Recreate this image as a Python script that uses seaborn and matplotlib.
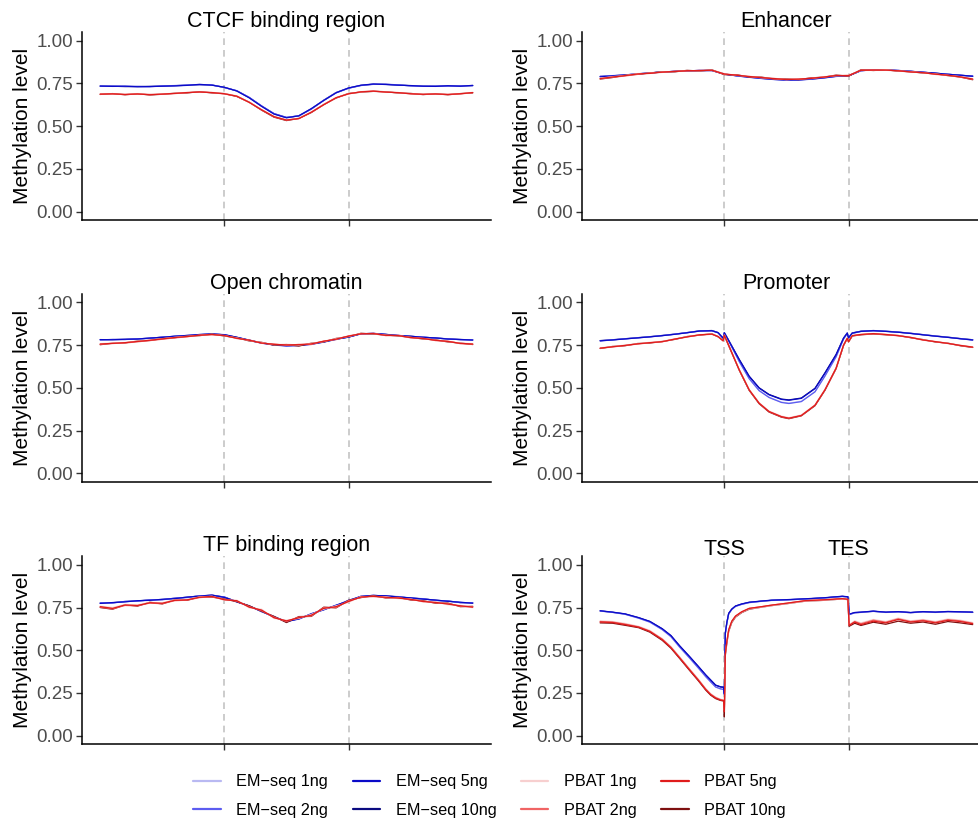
import pandas as pd
import matplotlib
matplotlib.use('Agg')
import matplotlib.pyplot as plt
import matplotlib.transforms as mtransforms
import seaborn as sns
from matplotlib.lines import Line2D

sns.set_theme(style='ticks')
plt.rcParams['font.family'] = ['Liberation Sans', 'DejaVu Sans']
plt.rcParams['text.color'] = 'black'
plt.rcParams['axes.labelcolor'] = 'black'

# Sample names and colours (legend order)
samples = ['EM\u2212seq 1ng', 'EM\u2212seq 2ng', 'EM\u2212seq 5ng', 'EM\u2212seq 10ng',
           'PBAT 1ng', 'PBAT 2ng', 'PBAT 5ng', 'PBAT 10ng']
colors = ['#b9b9f2', '#5c5cf0', '#0a0ac8', '#0a0a80',
          '#f7cfcf', '#f06464', '#e01c1c', '#7e1010']
# drawing order (alphabetical, as ggplot does it)
draw_order = ['EM\u2212seq 10ng', 'EM\u2212seq 1ng', 'EM\u2212seq 2ng', 'EM\u2212seq 5ng',
              'PBAT 10ng', 'PBAT 1ng', 'PBAT 2ng', 'PBAT 5ng']

# ---- CTCF binding region ----
ctcf_x = list(range(0, 301, 10))
ctcf_em1 = [0.736, 0.734, 0.735, 0.732, 0.733, 0.735, 0.737, 0.740, 0.744, 0.741, 0.727, 0.707, 0.667, 0.617, 0.572, 0.550,
            0.562, 0.602, 0.652, 0.697, 0.723, 0.739, 0.746, 0.745, 0.741, 0.737, 0.735, 0.734, 0.736, 0.735, 0.738]
ctcf_em2 = [0.734, 0.735, 0.733, 0.733, 0.731, 0.736, 0.738, 0.741, 0.743, 0.742, 0.726, 0.708, 0.669, 0.619, 0.574, 0.552,
            0.560, 0.600, 0.650, 0.695, 0.722, 0.738, 0.745, 0.746, 0.742, 0.736, 0.734, 0.735, 0.735, 0.736, 0.737]
ctcf_em5 = [0.735, 0.733, 0.734, 0.731, 0.732, 0.734, 0.736, 0.739, 0.745, 0.740, 0.728, 0.706, 0.666, 0.616, 0.571, 0.549,
            0.561, 0.603, 0.651, 0.696, 0.724, 0.740, 0.747, 0.744, 0.740, 0.738, 0.734, 0.733, 0.737, 0.734, 0.739]
ctcf_em10 = [0.735, 0.734, 0.732, 0.732, 0.733, 0.735, 0.737, 0.740, 0.743, 0.741, 0.727, 0.707, 0.668, 0.618, 0.573, 0.551,
             0.561, 0.601, 0.652, 0.697, 0.723, 0.739, 0.746, 0.745, 0.741, 0.737, 0.735, 0.734, 0.736, 0.735, 0.738]
ctcf_pb1 = [0.690, 0.688, 0.687, 0.691, 0.685, 0.689, 0.693, 0.698, 0.699, 0.698, 0.692, 0.678, 0.642, 0.598, 0.558, 0.538,
            0.547, 0.584, 0.628, 0.668, 0.691, 0.700, 0.704, 0.701, 0.695, 0.691, 0.688, 0.690, 0.687, 0.691, 0.698]
ctcf_pb2 = [0.687, 0.690, 0.685, 0.688, 0.686, 0.687, 0.691, 0.696, 0.701, 0.696, 0.689, 0.675, 0.639, 0.595, 0.555, 0.535,
            0.544, 0.581, 0.625, 0.666, 0.689, 0.702, 0.706, 0.699, 0.697, 0.689, 0.686, 0.688, 0.685, 0.689, 0.696]
ctcf_pb5 = [0.688, 0.689, 0.686, 0.689, 0.684, 0.688, 0.692, 0.697, 0.700, 0.697, 0.690, 0.676, 0.640, 0.596, 0.556, 0.536,
            0.545, 0.582, 0.626, 0.667, 0.690, 0.701, 0.705, 0.700, 0.696, 0.690, 0.687, 0.689, 0.686, 0.690, 0.697]
ctcf_pb10 = [0.686, 0.691, 0.684, 0.690, 0.683, 0.687, 0.693, 0.695, 0.702, 0.695, 0.691, 0.674, 0.641, 0.594, 0.553, 0.533,
             0.546, 0.580, 0.627, 0.665, 0.692, 0.699, 0.704, 0.702, 0.694, 0.692, 0.685, 0.690, 0.684, 0.691, 0.695]

# ---- Enhancer ----
enh_x = list(range(0, 301, 10))
enh_em1 = [0.790, 0.795, 0.800, 0.806, 0.812, 0.817, 0.821, 0.824, 0.826, 0.826, 0.805, 0.795, 0.787, 0.780, 0.774, 0.770,
           0.771, 0.776, 0.783, 0.792, 0.795, 0.825, 0.830, 0.829, 0.826, 0.821, 0.816, 0.810, 0.804, 0.798, 0.793]
enh_em2 = [0.792, 0.796, 0.801, 0.805, 0.813, 0.816, 0.822, 0.823, 0.827, 0.825, 0.806, 0.794, 0.786, 0.779, 0.773, 0.769,
           0.770, 0.775, 0.782, 0.791, 0.796, 0.824, 0.831, 0.828, 0.827, 0.820, 0.817, 0.809, 0.805, 0.797, 0.794]
enh_em5 = [0.789, 0.794, 0.799, 0.807, 0.811, 0.818, 0.820, 0.825, 0.825, 0.827, 0.804, 0.796, 0.788, 0.781, 0.775, 0.771,
           0.772, 0.777, 0.784, 0.793, 0.794, 0.826, 0.829, 0.830, 0.825, 0.822, 0.815, 0.811, 0.803, 0.799, 0.792]
enh_em10 = [0.791, 0.795, 0.800, 0.806, 0.812, 0.817, 0.821, 0.824, 0.826, 0.826, 0.805, 0.795, 0.787, 0.780, 0.774, 0.770,
            0.771, 0.776, 0.783, 0.792, 0.795, 0.825, 0.830, 0.829, 0.826, 0.821, 0.816, 0.810, 0.804, 0.798, 0.793]
enh_pb1 = [0.781, 0.790, 0.797, 0.808, 0.810, 0.818, 0.819, 0.826, 0.824, 0.829, 0.808, 0.797, 0.793, 0.783, 0.781, 0.772,
           0.778, 0.779, 0.790, 0.795, 0.798, 0.826, 0.827, 0.831, 0.823, 0.820, 0.812, 0.806, 0.797, 0.790, 0.778]
enh_pb2 = [0.777, 0.786, 0.794, 0.803, 0.812, 0.815, 0.822, 0.823, 0.827, 0.826, 0.803, 0.800, 0.789, 0.786, 0.776, 0.775,
           0.774, 0.782, 0.786, 0.798, 0.794, 0.829, 0.830, 0.827, 0.825, 0.817, 0.814, 0.803, 0.799, 0.787, 0.774]
enh_pb5 = [0.779, 0.788, 0.796, 0.806, 0.809, 0.817, 0.820, 0.825, 0.825, 0.828, 0.806, 0.798, 0.791, 0.784, 0.779, 0.773,
           0.776, 0.780, 0.788, 0.796, 0.797, 0.827, 0.828, 0.829, 0.824, 0.818, 0.813, 0.805, 0.798, 0.789, 0.776]
enh_pb10 = [0.776, 0.785, 0.798, 0.804, 0.811, 0.819, 0.818, 0.827, 0.823, 0.830, 0.802, 0.801, 0.788, 0.787, 0.777, 0.776,
            0.773, 0.783, 0.787, 0.799, 0.793, 0.830, 0.826, 0.830, 0.822, 0.819, 0.811, 0.807, 0.796, 0.788, 0.772]

# ---- Open chromatin ----
open_x = list(range(0, 301, 10))
open_em1 = [0.781, 0.782, 0.783, 0.786, 0.790, 0.796, 0.801, 0.806, 0.811, 0.815, 0.810, 0.795, 0.778, 0.762, 0.751, 0.746,
            0.748, 0.755, 0.768, 0.784, 0.797, 0.816, 0.818, 0.812, 0.806, 0.801, 0.796, 0.791, 0.786, 0.782, 0.780]
open_em2 = [0.780, 0.783, 0.782, 0.787, 0.789, 0.797, 0.800, 0.807, 0.810, 0.816, 0.809, 0.794, 0.777, 0.761, 0.750, 0.744,
            0.747, 0.754, 0.767, 0.783, 0.798, 0.815, 0.819, 0.811, 0.807, 0.800, 0.797, 0.790, 0.787, 0.781, 0.781]
open_em5 = [0.782, 0.781, 0.784, 0.785, 0.791, 0.795, 0.802, 0.805, 0.812, 0.814, 0.811, 0.796, 0.779, 0.763, 0.752, 0.747,
            0.749, 0.756, 0.769, 0.785, 0.796, 0.817, 0.817, 0.813, 0.805, 0.802, 0.795, 0.792, 0.785, 0.783, 0.779]
open_em10 = [0.781, 0.782, 0.783, 0.786, 0.790, 0.796, 0.801, 0.806, 0.811, 0.815, 0.810, 0.795, 0.778, 0.762, 0.751, 0.746,
             0.748, 0.755, 0.768, 0.784, 0.797, 0.816, 0.818, 0.812, 0.806, 0.801, 0.796, 0.791, 0.786, 0.782, 0.780]
open_pb1 = [0.758, 0.762, 0.765, 0.772, 0.779, 0.787, 0.795, 0.801, 0.806, 0.813, 0.804, 0.792, 0.776, 0.765, 0.752, 0.755,
            0.750, 0.760, 0.770, 0.788, 0.800, 0.818, 0.816, 0.808, 0.804, 0.795, 0.787, 0.779, 0.770, 0.762, 0.758]
open_pb2 = [0.754, 0.759, 0.762, 0.769, 0.776, 0.784, 0.792, 0.798, 0.809, 0.810, 0.807, 0.788, 0.780, 0.760, 0.756, 0.748,
            0.754, 0.753, 0.774, 0.782, 0.804, 0.815, 0.819, 0.805, 0.807, 0.792, 0.790, 0.776, 0.773, 0.758, 0.755]
open_pb5 = [0.756, 0.760, 0.764, 0.771, 0.778, 0.786, 0.794, 0.800, 0.807, 0.812, 0.805, 0.790, 0.778, 0.762, 0.754, 0.751,
            0.752, 0.757, 0.772, 0.785, 0.802, 0.816, 0.817, 0.807, 0.805, 0.794, 0.788, 0.778, 0.771, 0.760, 0.756]
open_pb10 = [0.752, 0.761, 0.763, 0.773, 0.777, 0.788, 0.793, 0.802, 0.805, 0.814, 0.803, 0.793, 0.774, 0.766, 0.749, 0.753,
             0.744, 0.761, 0.768, 0.789, 0.799, 0.819, 0.814, 0.809, 0.803, 0.796, 0.785, 0.781, 0.768, 0.762, 0.753]

# ---- Promoter ----
prom_x = [0, 10, 20, 30, 40, 50, 60, 70, 80, 90, 95, 99, 100, 104, 112, 120, 128, 136, 146, 152, 162, 173, 181,
          190, 196, 199, 200, 203, 210, 220, 230, 240, 250, 260, 270, 280, 290, 300]
prom_em1 = [0.776, 0.781, 0.787, 0.793, 0.799, 0.806, 0.814, 0.823, 0.831, 0.834, 0.821, 0.791, 0.821, 0.768, 0.655, 0.555,
            0.485, 0.445, 0.416, 0.410, 0.421, 0.478, 0.570, 0.683, 0.786, 0.819, 0.793, 0.819, 0.829, 0.833, 0.831,
            0.826, 0.819, 0.811, 0.803, 0.796, 0.788, 0.781]
prom_em2 = [0.774, 0.780, 0.786, 0.792, 0.798, 0.805, 0.813, 0.822, 0.832, 0.833, 0.822, 0.790, 0.820, 0.767, 0.653, 0.553,
            0.483, 0.443, 0.414, 0.408, 0.419, 0.476, 0.568, 0.681, 0.785, 0.818, 0.791, 0.818, 0.830, 0.834, 0.830,
            0.825, 0.818, 0.810, 0.802, 0.795, 0.787, 0.779]
prom_em5 = [0.775, 0.780, 0.786, 0.792, 0.798, 0.805, 0.813, 0.822, 0.832, 0.834, 0.822, 0.790, 0.822, 0.770, 0.664, 0.566,
            0.498, 0.459, 0.432, 0.427, 0.438, 0.495, 0.585, 0.693, 0.790, 0.820, 0.792, 0.820, 0.830, 0.834, 0.830,
            0.825, 0.818, 0.810, 0.802, 0.795, 0.787, 0.780]
prom_em10 = [0.776, 0.781, 0.787, 0.793, 0.799, 0.806, 0.814, 0.823, 0.833, 0.835, 0.823, 0.791, 0.823, 0.771, 0.666, 0.568,
             0.500, 0.461, 0.434, 0.429, 0.440, 0.497, 0.587, 0.695, 0.791, 0.821, 0.793, 0.821, 0.831, 0.835, 0.831,
             0.826, 0.819, 0.811, 0.803, 0.796, 0.788, 0.781]
prom_pb1 = [0.734, 0.741, 0.750, 0.758, 0.766, 0.772, 0.786, 0.799, 0.811, 0.815, 0.801, 0.776, 0.809, 0.742, 0.608, 0.491,
            0.413, 0.364, 0.334, 0.325, 0.341, 0.401, 0.491, 0.618, 0.752, 0.791, 0.771, 0.806, 0.813, 0.818, 0.813,
            0.806, 0.796, 0.781, 0.771, 0.761, 0.749, 0.739]
prom_pb2 = [0.731, 0.739, 0.747, 0.756, 0.763, 0.769, 0.784, 0.797, 0.809, 0.813, 0.799, 0.774, 0.807, 0.739, 0.604, 0.487,
            0.409, 0.360, 0.330, 0.321, 0.337, 0.397, 0.487, 0.614, 0.749, 0.789, 0.769, 0.804, 0.811, 0.816, 0.811,
            0.804, 0.794, 0.779, 0.769, 0.759, 0.747, 0.737]
prom_pb5 = [0.732, 0.740, 0.748, 0.757, 0.764, 0.770, 0.785, 0.798, 0.810, 0.814, 0.800, 0.775, 0.808, 0.740, 0.605, 0.488,
            0.410, 0.361, 0.331, 0.322, 0.338, 0.398, 0.488, 0.615, 0.750, 0.790, 0.770, 0.805, 0.812, 0.817, 0.812,
            0.805, 0.795, 0.780, 0.770, 0.760, 0.748, 0.738]
prom_pb10 = [0.730, 0.742, 0.746, 0.759, 0.762, 0.771, 0.783, 0.800, 0.808, 0.816, 0.798, 0.777, 0.806, 0.738, 0.603, 0.485,
             0.407, 0.358, 0.328, 0.319, 0.336, 0.395, 0.485, 0.612, 0.747, 0.788, 0.768, 0.803, 0.810, 0.815, 0.810,
             0.806, 0.793, 0.782, 0.768, 0.761, 0.746, 0.736]

# ---- TF binding region ----
tf_x = list(range(0, 301, 10))
tf_em1 = [0.775, 0.778, 0.784, 0.789, 0.793, 0.797, 0.803, 0.810, 0.817, 0.822, 0.810, 0.784, 0.758, 0.728, 0.695, 0.668,
          0.684, 0.712, 0.738, 0.762, 0.790, 0.815, 0.820, 0.818, 0.812, 0.806, 0.800, 0.793, 0.787, 0.780, 0.776]
tf_em2 = [0.777, 0.776, 0.786, 0.787, 0.795, 0.795, 0.805, 0.808, 0.819, 0.820, 0.812, 0.782, 0.760, 0.725, 0.698, 0.665,
          0.687, 0.709, 0.741, 0.759, 0.793, 0.813, 0.822, 0.816, 0.814, 0.804, 0.802, 0.791, 0.789, 0.778, 0.778]
tf_em5 = [0.774, 0.779, 0.783, 0.790, 0.792, 0.798, 0.802, 0.811, 0.816, 0.823, 0.809, 0.785, 0.757, 0.730, 0.693, 0.670,
          0.682, 0.714, 0.736, 0.764, 0.788, 0.816, 0.819, 0.819, 0.811, 0.807, 0.799, 0.794, 0.786, 0.781, 0.775]
tf_em10 = [0.776, 0.778, 0.785, 0.789, 0.794, 0.797, 0.804, 0.810, 0.818, 0.822, 0.811, 0.784, 0.759, 0.727, 0.696, 0.667,
           0.685, 0.711, 0.739, 0.761, 0.791, 0.815, 0.821, 0.817, 0.813, 0.805, 0.801, 0.792, 0.788, 0.779, 0.777]
tf_pb1 = [0.758, 0.750, 0.768, 0.765, 0.780, 0.778, 0.794, 0.797, 0.812, 0.816, 0.792, 0.793, 0.748, 0.740, 0.686, 0.676,
          0.686, 0.710, 0.740, 0.760, 0.780, 0.815, 0.812, 0.813, 0.802, 0.800, 0.782, 0.783, 0.766, 0.763, 0.749]
tf_pb2 = [0.752, 0.742, 0.762, 0.760, 0.776, 0.772, 0.790, 0.793, 0.808, 0.813, 0.798, 0.787, 0.756, 0.731, 0.694, 0.668,
          0.694, 0.700, 0.750, 0.750, 0.790, 0.809, 0.818, 0.807, 0.808, 0.796, 0.788, 0.777, 0.774, 0.757, 0.755]
tf_pb5 = [0.755, 0.745, 0.765, 0.762, 0.778, 0.775, 0.792, 0.795, 0.810, 0.815, 0.795, 0.790, 0.752, 0.735, 0.690, 0.672,
          0.690, 0.705, 0.745, 0.755, 0.785, 0.812, 0.815, 0.810, 0.805, 0.798, 0.785, 0.780, 0.770, 0.760, 0.752]
tf_pb10 = [0.750, 0.740, 0.766, 0.758, 0.781, 0.771, 0.795, 0.792, 0.813, 0.811, 0.800, 0.784, 0.760, 0.728, 0.698, 0.662,
           0.697, 0.698, 0.752, 0.748, 0.792, 0.808, 0.819, 0.806, 0.809, 0.794, 0.790, 0.775, 0.776, 0.755, 0.757]

# ---- Gene body (TSS / TES) ----
gene_x = [0, 10, 20, 31, 40, 50, 57, 64, 72, 79, 85, 89, 93, 97, 99.5, 100, 100.8, 102, 103.5, 106, 109, 114, 120,
          130, 138, 150, 165, 180, 195, 199.5, 200, 200.5, 205, 210, 220, 230, 240, 250, 260, 270, 280, 290, 300]
gene_em1 = [0.729, 0.721, 0.710, 0.687, 0.664, 0.620, 0.579, 0.518, 0.454, 0.396, 0.345, 0.314, 0.284, 0.273, 0.270, 0.240,
            0.595, 0.657, 0.712, 0.738, 0.756, 0.768, 0.778, 0.786, 0.791, 0.794, 0.799, 0.805, 0.814, 0.811, 0.768,
            0.708, 0.718, 0.721, 0.727, 0.721, 0.724, 0.719, 0.724, 0.721, 0.725, 0.723, 0.721]
gene_em2 = [0.730, 0.722, 0.711, 0.688, 0.665, 0.621, 0.580, 0.519, 0.455, 0.397, 0.346, 0.315, 0.285, 0.274, 0.271, 0.241,
            0.597, 0.658, 0.713, 0.739, 0.757, 0.769, 0.779, 0.787, 0.792, 0.795, 0.800, 0.806, 0.815, 0.812, 0.769,
            0.709, 0.719, 0.722, 0.728, 0.722, 0.725, 0.720, 0.725, 0.722, 0.726, 0.724, 0.722]
gene_em5 = [0.731, 0.723, 0.713, 0.691, 0.669, 0.626, 0.586, 0.526, 0.463, 0.406, 0.356, 0.326, 0.296, 0.286, 0.284, 0.246,
            0.602, 0.662, 0.716, 0.741, 0.759, 0.771, 0.781, 0.788, 0.793, 0.796, 0.801, 0.807, 0.816, 0.813, 0.771,
            0.711, 0.721, 0.723, 0.729, 0.723, 0.726, 0.721, 0.726, 0.723, 0.727, 0.725, 0.723]
gene_em10 = [0.730, 0.722, 0.712, 0.690, 0.668, 0.625, 0.585, 0.525, 0.462, 0.405, 0.355, 0.325, 0.295, 0.285, 0.283, 0.245,
             0.600, 0.660, 0.715, 0.740, 0.758, 0.770, 0.780, 0.787, 0.792, 0.795, 0.800, 0.806, 0.815, 0.812, 0.770,
             0.710, 0.720, 0.722, 0.728, 0.722, 0.725, 0.720, 0.725, 0.722, 0.726, 0.724, 0.722]
gene_pb1 = [0.672, 0.668, 0.657, 0.640, 0.616, 0.568, 0.522, 0.462, 0.392, 0.332, 0.276, 0.246, 0.226, 0.213, 0.209, 0.150,
            0.470, 0.545, 0.615, 0.666, 0.697, 0.722, 0.742, 0.752, 0.761, 0.772, 0.787, 0.792, 0.800, 0.796, 0.722,
            0.650, 0.672, 0.660, 0.680, 0.668, 0.688, 0.672, 0.680, 0.668, 0.683, 0.676, 0.662]
gene_pb2 = [0.668, 0.665, 0.653, 0.637, 0.612, 0.565, 0.518, 0.458, 0.388, 0.328, 0.273, 0.243, 0.223, 0.211, 0.207, 0.150,
            0.478, 0.550, 0.620, 0.670, 0.700, 0.725, 0.745, 0.755, 0.764, 0.775, 0.790, 0.795, 0.802, 0.798, 0.720,
            0.646, 0.668, 0.655, 0.676, 0.664, 0.684, 0.668, 0.676, 0.664, 0.679, 0.672, 0.658]
gene_pb5 = [0.665, 0.662, 0.650, 0.635, 0.610, 0.562, 0.515, 0.455, 0.385, 0.325, 0.270, 0.240, 0.220, 0.208, 0.205, 0.140,
            0.480, 0.550, 0.620, 0.670, 0.700, 0.725, 0.745, 0.755, 0.764, 0.775, 0.790, 0.795, 0.802, 0.798, 0.720,
            0.645, 0.665, 0.650, 0.670, 0.660, 0.680, 0.665, 0.672, 0.660, 0.675, 0.668, 0.655]
gene_pb10 = [0.660, 0.658, 0.646, 0.632, 0.606, 0.558, 0.512, 0.452, 0.382, 0.322, 0.267, 0.237, 0.217, 0.206, 0.203, 0.110,
             0.470, 0.540, 0.610, 0.662, 0.694, 0.720, 0.740, 0.752, 0.761, 0.772, 0.787, 0.792, 0.800, 0.796, 0.716,
             0.640, 0.658, 0.645, 0.664, 0.652, 0.670, 0.658, 0.665, 0.652, 0.668, 0.660, 0.650]

panels = [
    ('CTCF binding region', ctcf_x, [ctcf_em1, ctcf_em2, ctcf_em5, ctcf_em10, ctcf_pb1, ctcf_pb2, ctcf_pb5, ctcf_pb10]),
    ('Enhancer', enh_x, [enh_em1, enh_em2, enh_em5, enh_em10, enh_pb1, enh_pb2, enh_pb5, enh_pb10]),
    ('Open chromatin', open_x, [open_em1, open_em2, open_em5, open_em10, open_pb1, open_pb2, open_pb5, open_pb10]),
    ('Promoter', prom_x, [prom_em1, prom_em2, prom_em5, prom_em10, prom_pb1, prom_pb2, prom_pb5, prom_pb10]),
    ('TF binding region', tf_x, [tf_em1, tf_em2, tf_em5, tf_em10, tf_pb1, tf_pb2, tf_pb5, tf_pb10]),
    ('', gene_x, [gene_em1, gene_em2, gene_em5, gene_em10, gene_pb1, gene_pb2, gene_pb5, gene_pb10]),
]

palette = dict(zip(samples, colors))

fig = plt.figure(figsize=(9.79, 8.22), dpi=100)
lefts = [0.0833, 0.594]
bottoms = [0.7321, 0.4139, 0.0946]
w, h = 0.4186, 0.2287

for i, (name, xs, series) in enumerate(panels):
    ax = fig.add_axes([lefts[i % 2], bottoms[i // 2], w, h])
    rows = []
    for s, vals in zip(samples, series):
        for xv, yv in zip(xs, vals):
            rows.append({'x': xv, 'value': yv, 'sample': s})
    df = pd.DataFrame(rows)

    for xv in [100, 200]:
        ax.axvline(xv, color='#c4c4c4', lw=1.2, ls=(0, (4, 3)), zorder=0)

    sns.lineplot(data=df, x='x', y='value', hue='sample', hue_order=draw_order,
                 palette=palette, estimator=None, sort=False, lw=0.9,
                 legend=False, ax=ax)

    ax.set_xlim(-15, 315)
    ax.set_ylim(-0.05, 1.05)
    ax.set_xticks([100, 200])
    ax.set_xticklabels([])
    ax.set_yticks([0, 0.25, 0.5, 0.75, 1.0])
    ax.set_yticklabels(['0.00', '0.25', '0.50', '0.75', '1.00'])
    ax.set_xlabel('')
    ax.set_ylabel('Methylation level', fontsize=15, color='black', labelpad=3)
    ax.tick_params(axis='y', labelsize=13.5, labelcolor='#4d4d4d', color='#333333',
                   length=4, width=1, pad=2)
    ax.tick_params(axis='x', color='#333333', length=4, width=1)
    sns.despine(ax=ax)
    for sp in ['left', 'bottom']:
        ax.spines[sp].set_color('black')
        ax.spines[sp].set_linewidth(1.1)
    if name:
        ax.set_title(name, fontsize=15.5, pad=0, color='black')
    else:
        trans = mtransforms.blended_transform_factory(ax.transData, ax.transAxes)
        for xv, lab in [(100, 'TSS'), (200, 'TES')]:
            ax.text(xv, 1.0 + 1.0 / (h * 822), lab, transform=trans, ha='center',
                    va='baseline', fontsize=15.5, color='black')

handles = [Line2D([0], [0], color=c, lw=1.6) for c in colors]
fig.legend(handles, samples, ncol=4, loc='lower center', bbox_to_anchor=(0.5, -0.013),
           frameon=False, fontsize=11.7, handlelength=1.7, columnspacing=1.5,
           handletextpad=0.95, labelspacing=0.85)

fig.savefig('out.png', dpi=100)
